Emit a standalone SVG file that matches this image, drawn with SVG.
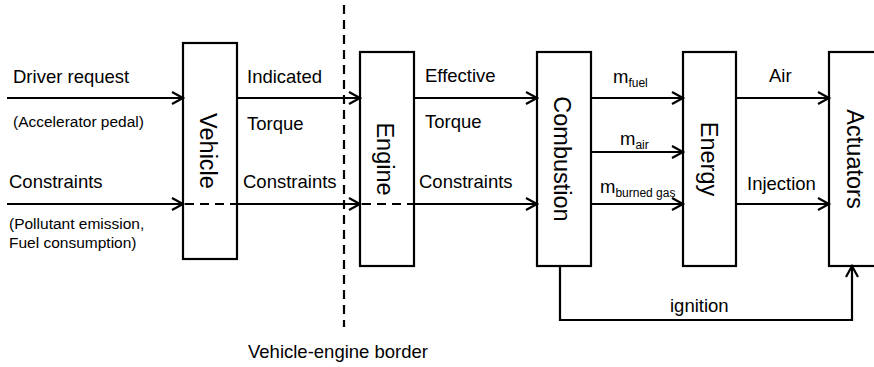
<svg xmlns="http://www.w3.org/2000/svg" width="874" height="367" viewBox="0 0 874 367">
<defs>
<style>
.box{fill:#fff;stroke:#000;stroke-width:2.2}
.ln{fill:none;stroke:#000;stroke-width:2.2}
.dash{fill:none;stroke:#000;stroke-width:2.2;stroke-dasharray:9,6}
.t{font-family:"Liberation Sans",Arial,sans-serif;font-size:18.5px;fill:#000}
.s{font-family:"Liberation Sans",Arial,sans-serif;font-size:15.5px;fill:#000}
.sub{font-size:12px}
.r{font-family:"Liberation Sans",Arial,sans-serif;font-size:23.5px;fill:#000;text-anchor:middle}
</style>
<marker id="ah" markerUnits="userSpaceOnUse" markerWidth="14" markerHeight="16" refX="12" refY="7" orient="auto" overflow="visible">
<path d="M1,1 L12,7 L1,13" fill="none" stroke="#000" stroke-width="2.2"/>
</marker>
</defs>
<rect width="874" height="367" fill="#fff"/>

<g id="border">
<line class="dash" x1="344" y1="5" x2="344" y2="327"/>
<text class="t" x="248" y="358">Vehicle-engine border</text>
</g>

<g id="vehicle">
<rect class="box" x="183" y="43" width="54" height="216"/>
<text class="r" transform="translate(200,151) rotate(90)">Vehicle</text>
</g>
<g id="engine">
<rect class="box" x="360" y="52" width="54" height="214"/>
<text class="r" transform="translate(377,159) rotate(90)">Engine</text>
</g>
<g id="combustion">
<rect class="box" x="537" y="52" width="54" height="214"/>
<text class="r" transform="translate(554,159) rotate(90)">Combustion</text>
</g>
<g id="energy">
<rect class="box" x="683" y="52" width="53" height="214"/>
<text class="r" transform="translate(701,159) rotate(90)">Energy</text>
</g>
<g id="actuators">
<rect class="box" x="829" y="52" width="60" height="214"/>
<text class="r" transform="translate(847,159) rotate(90)">Actuators</text>
</g>

<g id="connectors">
<line class="ln" x1="7" y1="98" x2="183" y2="98" marker-end="url(#ah)"/>
<line class="ln" x1="7" y1="204" x2="183" y2="204" marker-end="url(#ah)"/>
<line class="dash" x1="185" y1="204" x2="237" y2="204"/>
<line class="ln" x1="237" y1="98" x2="360" y2="98" marker-end="url(#ah)"/>
<line class="ln" x1="237" y1="204" x2="360" y2="204" marker-end="url(#ah)"/>
<line class="dash" x1="362" y1="204" x2="414" y2="204"/>
<line class="ln" x1="414" y1="98" x2="537" y2="98" marker-end="url(#ah)"/>
<line class="ln" x1="414" y1="204" x2="537" y2="204" marker-end="url(#ah)"/>
<line class="ln" x1="591" y1="98" x2="683" y2="98" marker-end="url(#ah)"/>
<line class="ln" x1="591" y1="152" x2="683" y2="152" marker-end="url(#ah)"/>
<line class="ln" x1="591" y1="204" x2="683" y2="204" marker-end="url(#ah)"/>
<line class="ln" x1="736" y1="98" x2="829" y2="98" marker-end="url(#ah)"/>
<line class="ln" x1="736" y1="204" x2="829" y2="204" marker-end="url(#ah)"/>
<polyline class="ln" points="560,266 560,320 852,320 852,266" marker-end="url(#ah)"/>
</g>

<g id="labels">
<text class="t" x="13" y="83">Driver request</text>
<text class="s" x="13" y="127">(Accelerator pedal)</text>
<text class="t" x="9" y="188">Constraints</text>
<text class="s" x="9" y="229">(Pollutant emission,</text>
<text class="s" x="9" y="248">Fuel consumption)</text>
<text class="t" x="247" y="83">Indicated</text>
<text class="t" x="247" y="130">Torque</text>
<text class="t" x="243" y="188">Constraints</text>
<text class="t" x="425" y="82">Effective</text>
<text class="t" x="425" y="128">Torque</text>
<text class="t" x="419" y="188">Constraints</text>
<text class="t" x="613" y="83">m<tspan class="sub" dy="4">fuel</tspan></text>
<text class="t" x="620" y="145">m<tspan class="sub" dy="4">air</tspan></text>
<text class="t" x="600" y="193">m<tspan class="sub" dy="4">burned gas</tspan></text>
<text class="t" x="769" y="82">Air</text>
<text class="t" x="747" y="190">Injection</text>
<text class="t" x="670" y="312">ignition</text>
</g>
</svg>
